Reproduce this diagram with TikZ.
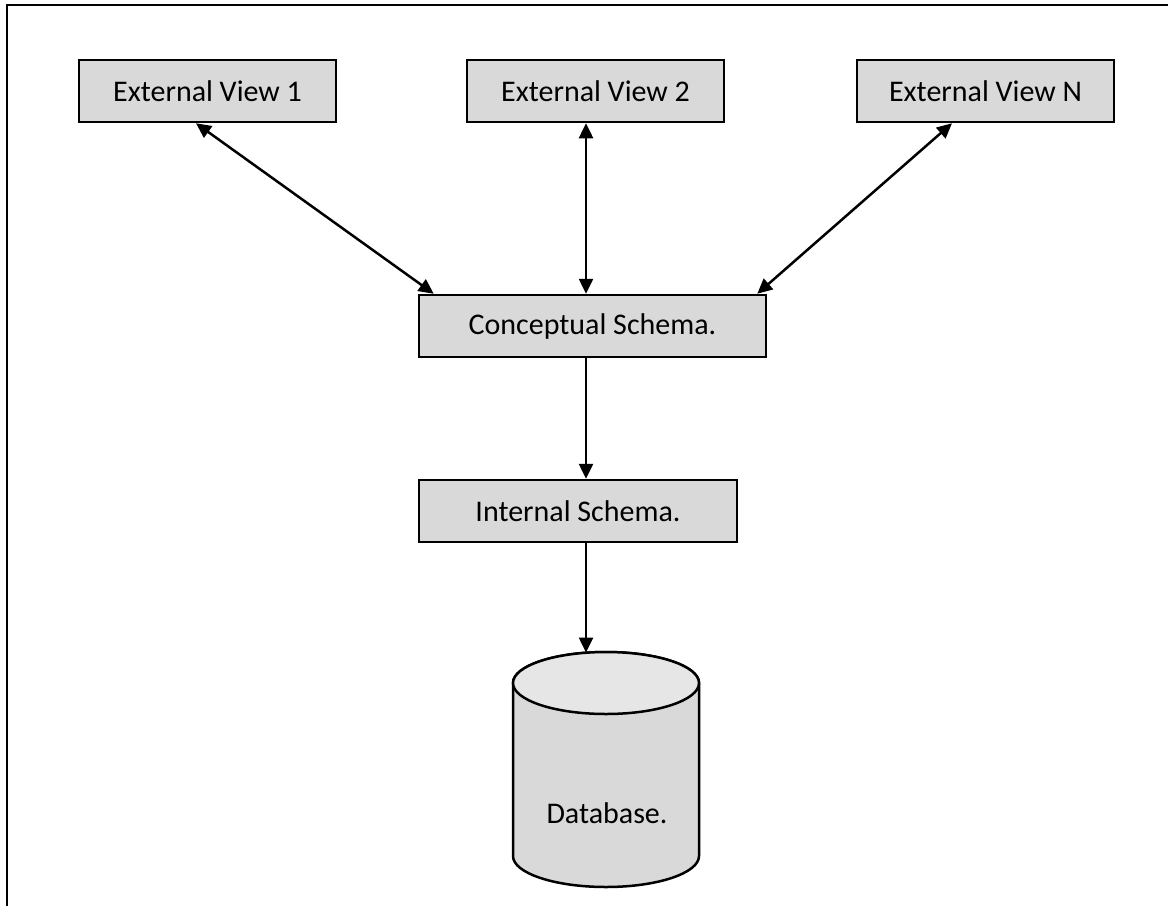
\documentclass[tikz,border=0pt]{standalone}
\usepackage{fontspec}
\setmainfont{Carlito}
\usetikzlibrary{arrows.meta}
\begin{document}
\begin{tikzpicture}[x=1pt,y=-1pt,
  box/.style={draw=black, line width=2.5pt, fill=boxgray, minimum height=62pt, inner sep=0pt,
    font=\fontsize{30}{36}\selectfont},
  conn/.style={line width=2.5pt, -{Triangle[length=15pt,width=14pt]}},
  bconn/.style={line width=2.5pt, {Triangle[length=15pt,width=14pt]}-{Triangle[length=15pt,width=14pt]}}]
\definecolor{boxgray}{HTML}{D9D9D9}
\definecolor{topgray}{HTML}{E6E6E6}
\useasboundingbox (0,0) rectangle (1168,906);
\fill[white] (0,0) rectangle (1168,906);
% frame (top and left edges only)
\draw[line width=2.5pt] (1168,5) -- (7,5) -- (7,906);
\coordinate (spine) at (586,0);
% nodes
\node[box, minimum width=257pt] (ev1) at (207.5,91) {External View 1};
\node[box, minimum width=257pt] (ev2) at (595.5,91) {External View 2};
\node[box, minimum width=257pt] (evn) at (985.5,91) {External View N};
\node[box, minimum width=347pt] (cs) at (592.5,326) {Conceptual Schema.};
\node[box, minimum width=318pt] (is) at (578,511) {Internal Schema.};
% database cylinder
\filldraw[fill=boxgray, line width=2.5pt] (513,683) -- (513,856) arc[start angle=180, end angle=0, x radius=93, y radius=31] -- (699,683) arc[start angle=360, end angle=180, x radius=93, y radius=31] -- cycle;
\filldraw[fill=topgray, line width=2.5pt] (606,683) ellipse[x radius=93, y radius=31];
\node[font=\fontsize{30}{36}\selectfont] (db) at (607,813) {Database.};
\coordinate (dbtop) at (586,652.5);
% connectors
\draw[bconn] ([xshift=-11.5pt]ev1.south) -- ([xshift=16pt]cs.north west);
\draw[bconn] (ev2.south -| spine) -- (cs.north -| spine);
\draw[bconn] ([xshift=-33.5pt]evn.south) -- ([xshift=-10pt]cs.north east);
\draw[conn] (cs.south -| spine) -- (is.north -| spine);
\draw[conn] (is.south -| spine) -- (dbtop);
\end{tikzpicture}
\end{document}
